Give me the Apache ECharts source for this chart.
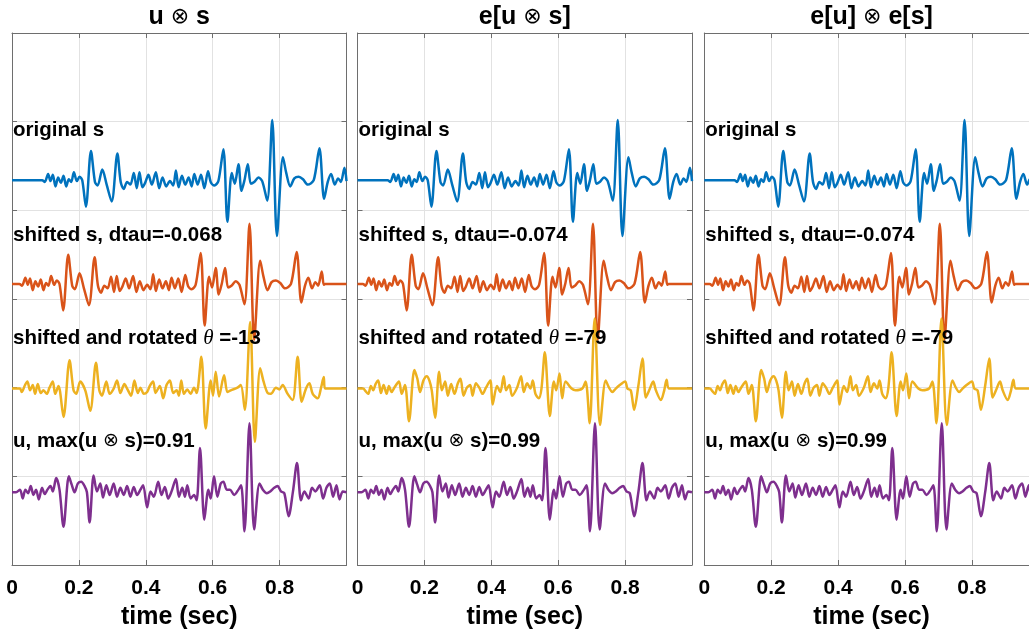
<!DOCTYPE html>
<html>
<head>
<meta charset="utf-8">
<script src="https://cdn.jsdelivr.net/npm/echarts@6/dist/echarts.min.js"></script>
<style>html,body{margin:0;padding:0;background:#fff}#chart{width:1029px;height:636px}</style>
</head>
<body>
<div id="chart"></div>
<script>
// tick labels and panel texts
var xTicks = [0, 0.2, 0.4, 0.6, 0.8];
var xTickLabels = ['0', '0.2', '0.4', '0.6', '0.8'];
var panelTitles = [['u', 's'], ['e[u', 's]'], ['e[u]', 'e[s]']];
var dtauText = ['-0.068', '-0.074', '-0.074'];
var thetaText = ['-13', '-79', '-79'];
var maxText = ['0.91', '0.99', '0.99'];

// traces, [time (sec), amplitude]
var origS = [[0,0],[0.09,0],[0.098,-0.02],[0.108,0.07],[0.115,-0.01],[0.122,0.06],[0.13,-0.07],[0.138,0.03],[0.146,-0.03],[0.154,0.05],[0.162,-0.07],[0.17,0.01],[0.177,-0.02],[0.185,0.09],[0.194,-0.01],[0.202,0.04],[0.21,0],[0.221,-0.3],[0.236,0.33],[0.248,-0.02],[0.256,-0.06],[0.27,0.12],[0.283,-0.05],[0.298,-0.24],[0.315,0.3],[0.325,-0.02],[0.334,-0.1],[0.344,-0.02],[0.354,-0.05],[0.364,0.08],[0.373,-0.09],[0.381,0.09],[0.39,-0.08],[0.398,-0.03],[0.408,0.06],[0.418,-0.05],[0.43,0.09],[0.44,-0.09],[0.45,0.03],[0.461,-0.07],[0.472,-0.01],[0.482,-0.06],[0.49,0.11],[0.498,-0.08],[0.508,0.05],[0.518,-0.05],[0.528,0.03],[0.537,-0.07],[0.545,0.07],[0.555,-0.05],[0.565,0.06],[0.575,-0.09],[0.586,0.1],[0.595,-0.03],[0.605,-0.06],[0.617,-0.01],[0.632,0.35],[0.644,-0.47],[0.657,0.08],[0.666,-0.04],[0.677,0.18],[0.686,-0.12],[0.695,0],[0.705,0.18],[0.714,-0.04],[0.724,-0.02],[0.737,0.03],[0.748,-0.01],[0.763,-0.23],[0.778,0.68],[0.792,-0.63],[0.81,0.26],[0.82,0.08],[0.832,-0.07],[0.844,0.02],[0.857,0.04],[0.87,0.01],[0.884,-0.05],[0.902,0],[0.919,0.36],[0.933,-0.21],[0.944,-0.02],[0.954,0.07],[0.965,-0.05],[0.975,0.02],[0.983,-0.02],[0.994,0.14],[1,-0.01]];

var shiftedS068 = [[0,0],[0.022,0],[0.03,-0.02],[0.04,0.07],[0.047,-0.01],[0.054,0.06],[0.062,-0.07],[0.07,0.03],[0.078,-0.03],[0.086,0.05],[0.094,-0.07],[0.102,0.01],[0.109,-0.02],[0.117,0.09],[0.126,-0.01],[0.134,0.04],[0.142,0],[0.153,-0.3],[0.168,0.33],[0.18,-0.02],[0.188,-0.06],[0.202,0.12],[0.215,-0.05],[0.23,-0.24],[0.247,0.3],[0.257,-0.02],[0.266,-0.1],[0.276,-0.02],[0.286,-0.05],[0.296,0.08],[0.305,-0.09],[0.313,0.09],[0.322,-0.08],[0.33,-0.03],[0.34,0.06],[0.35,-0.05],[0.362,0.09],[0.372,-0.09],[0.382,0.03],[0.393,-0.07],[0.404,-0.01],[0.414,-0.06],[0.422,0.11],[0.43,-0.08],[0.44,0.05],[0.45,-0.05],[0.46,0.03],[0.469,-0.07],[0.477,0.07],[0.487,-0.05],[0.497,0.06],[0.507,-0.09],[0.518,0.1],[0.527,-0.03],[0.537,-0.06],[0.549,-0.01],[0.564,0.35],[0.576,-0.47],[0.589,0.08],[0.598,-0.04],[0.609,0.18],[0.618,-0.12],[0.627,0],[0.637,0.18],[0.646,-0.04],[0.656,-0.02],[0.669,0.03],[0.68,-0.01],[0.695,-0.23],[0.71,0.68],[0.724,-0.63],[0.742,0.26],[0.752,0.08],[0.764,-0.07],[0.776,0.02],[0.789,0.04],[0.802,0.01],[0.816,-0.05],[0.834,0],[0.851,0.36],[0.865,-0.21],[0.876,-0.02],[0.886,0.07],[0.897,-0.05],[0.907,0.02],[0.915,-0.02],[0.926,0.14],[0.932,-0.01],[0.936,0],[1,0]];

var shiftedS074 = [[0,0],[0.016,0],[0.024,-0.02],[0.034,0.07],[0.041,-0.01],[0.048,0.06],[0.056,-0.07],[0.064,0.03],[0.072,-0.03],[0.08,0.05],[0.088,-0.07],[0.096,0.01],[0.103,-0.02],[0.111,0.09],[0.12,-0.01],[0.128,0.04],[0.136,0],[0.147,-0.3],[0.162,0.33],[0.174,-0.02],[0.182,-0.06],[0.196,0.12],[0.209,-0.05],[0.224,-0.24],[0.241,0.3],[0.251,-0.02],[0.26,-0.1],[0.27,-0.02],[0.28,-0.05],[0.29,0.08],[0.299,-0.09],[0.307,0.09],[0.316,-0.08],[0.324,-0.03],[0.334,0.06],[0.344,-0.05],[0.356,0.09],[0.366,-0.09],[0.376,0.03],[0.387,-0.07],[0.398,-0.01],[0.408,-0.06],[0.416,0.11],[0.424,-0.08],[0.434,0.05],[0.444,-0.05],[0.454,0.03],[0.463,-0.07],[0.471,0.07],[0.481,-0.05],[0.491,0.06],[0.501,-0.09],[0.512,0.1],[0.521,-0.03],[0.531,-0.06],[0.543,-0.01],[0.558,0.35],[0.57,-0.47],[0.583,0.08],[0.592,-0.04],[0.603,0.18],[0.612,-0.12],[0.621,0],[0.631,0.18],[0.64,-0.04],[0.65,-0.02],[0.663,0.03],[0.674,-0.01],[0.689,-0.23],[0.704,0.68],[0.718,-0.63],[0.736,0.26],[0.746,0.08],[0.758,-0.07],[0.77,0.02],[0.783,0.04],[0.796,0.01],[0.81,-0.05],[0.828,0],[0.845,0.36],[0.859,-0.21],[0.87,-0.02],[0.88,0.07],[0.891,-0.05],[0.901,0.02],[0.909,-0.02],[0.92,0.14],[0.926,-0.01],[0.93,0],[1,0]];

var rotated13 = [[0,0],[0.024,0],[0.029,-0.04],[0.039,0.04],[0.046,0.08],[0.054,-0.02],[0.062,0.04],[0.069,-0.06],[0.077,0.05],[0.086,-0.05],[0.094,-0.02],[0.104,-0.06],[0.112,0.01],[0.122,0.08],[0.129,-0.06],[0.139,0.03],[0.154,-0.32],[0.172,0.32],[0.184,-0.02],[0.192,-0.06],[0.204,0.08],[0.219,-0.02],[0.234,-0.25],[0.251,0.29],[0.261,-0.02],[0.269,-0.08],[0.282,0.08],[0.292,-0.06],[0.304,0],[0.314,0.09],[0.324,-0.05],[0.336,0.05],[0.344,0],[0.356,-0.08],[0.366,0.09],[0.376,-0.05],[0.384,0.01],[0.394,-0.06],[0.404,-0.04],[0.412,0.03],[0.422,0.08],[0.429,-0.05],[0.442,0.03],[0.452,-0.11],[0.462,0.04],[0.472,0.09],[0.482,-0.05],[0.492,-0.02],[0.499,-0.08],[0.506,0.09],[0.514,-0.06],[0.524,-0.01],[0.534,-0.06],[0.544,0.01],[0.552,-0.05],[0.566,0.36],[0.579,-0.45],[0.594,0.09],[0.601,-0.08],[0.609,0.19],[0.619,-0.09],[0.634,0.15],[0.644,-0.04],[0.654,-0.02],[0.674,0.01],[0.684,0.04],[0.696,-0.24],[0.712,0.75],[0.726,-0.6],[0.742,0.23],[0.752,0.08],[0.764,-0.05],[0.774,-0.06],[0.789,0.01],[0.799,-0.01],[0.809,0.04],[0.824,-0.06],[0.839,-0.13],[0.854,0.36],[0.866,-0.15],[0.879,0],[0.889,0.06],[0.899,-0.06],[0.914,-0.11],[0.924,0.01],[0.932,0.13],[0.936,0],[1,0]];

var rotated79 = [[0,0],[0.017,0],[0.024,-0.03],[0.032,-0.06],[0.04,0.03],[0.047,-0.02],[0.054,0.05],[0.062,0.09],[0.07,-0.05],[0.078,0.04],[0.087,-0.06],[0.094,0.03],[0.102,-0.04],[0.11,0.01],[0.124,0.08],[0.132,-0.06],[0.142,0.04],[0.154,-0.37],[0.17,0.21],[0.179,0.11],[0.187,-0.04],[0.197,0.09],[0.207,0.14],[0.215,0.09],[0.222,-0.02],[0.232,-0.33],[0.244,0.19],[0.252,-0.02],[0.262,0.08],[0.27,-0.08],[0.28,0.05],[0.29,-0.06],[0.3,0.06],[0.308,0.11],[0.317,-0.08],[0.327,0.01],[0.337,0.04],[0.344,-0.08],[0.354,0.06],[0.364,0.01],[0.374,-0.06],[0.384,0.01],[0.397,0.09],[0.404,-0.18],[0.417,0.03],[0.427,-0.04],[0.437,0.14],[0.444,-0.02],[0.454,0.04],[0.462,-0.08],[0.477,0.01],[0.489,0.14],[0.497,-0.04],[0.507,0.06],[0.517,0],[0.524,0.09],[0.532,-0.06],[0.542,-0.11],[0.55,0],[0.56,0.41],[0.575,-0.31],[0.587,0.08],[0.594,-0.02],[0.604,0.17],[0.612,-0.11],[0.622,0.08],[0.64,0],[0.652,-0.02],[0.672,0],[0.682,0.08],[0.694,-0.39],[0.709,0.79],[0.725,-0.41],[0.742,0.09],[0.752,0.01],[0.762,-0.04],[0.772,0],[0.784,0.04],[0.8,0.08],[0.807,0],[0.817,-0.02],[0.827,-0.24],[0.84,0.04],[0.852,0.34],[0.862,-0.1],[0.872,-0.02],[0.884,0.08],[0.892,-0.02],[0.907,-0.13],[0.917,-0.02],[0.924,0.1],[0.932,0],[1,0]];

var uTrace = [[0,0],[0.012,0],[0.024,0.03],[0.032,-0.07],[0.04,0.03],[0.048,-0.01],[0.056,0.07],[0.064,-0.03],[0.072,0.03],[0.08,-0.08],[0.09,0.05],[0.098,-0.02],[0.106,0.03],[0.115,0.07],[0.122,0.01],[0.132,0.16],[0.142,0.03],[0.154,-0.39],[0.17,0.18],[0.179,0.08],[0.187,0],[0.197,0.1],[0.207,0.12],[0.217,0.07],[0.224,0],[0.232,-0.34],[0.244,0.19],[0.254,0.01],[0.264,0.1],[0.272,-0.06],[0.282,0.08],[0.292,-0.03],[0.304,0.1],[0.314,-0.05],[0.324,0.05],[0.334,-0.03],[0.344,0.07],[0.354,-0.05],[0.364,0.06],[0.374,-0.03],[0.384,0.03],[0.392,0.08],[0.404,-0.17],[0.414,0.01],[0.424,-0.05],[0.437,0.12],[0.447,-0.03],[0.457,0.06],[0.467,-0.07],[0.477,0.01],[0.49,0.15],[0.499,-0.05],[0.509,0.05],[0.517,-0.05],[0.524,0.08],[0.534,-0.07],[0.544,-0.03],[0.552,-0.09],[0.562,0.5],[0.575,-0.31],[0.587,0.03],[0.594,-0.07],[0.604,0.18],[0.614,-0.05],[0.624,0.1],[0.632,0.12],[0.642,0.03],[0.652,0.03],[0.664,-0.03],[0.677,0.03],[0.685,0.08],[0.695,-0.44],[0.71,0.78],[0.724,-0.42],[0.74,0.1],[0.75,0.03],[0.762,-0.01],[0.772,0.01],[0.784,0.05],[0.794,0.07],[0.804,0.01],[0.814,-0.01],[0.827,-0.27],[0.84,0.01],[0.852,0.33],[0.864,-0.09],[0.874,0.01],[0.887,-0.07],[0.897,0.05],[0.907,0.01],[0.92,0.08],[0.93,-0.07],[0.94,0.05],[0.95,0.1],[0.96,-0.05],[0.97,0.08],[0.979,-0.08],[0.989,0.01],[1,0]];

var panelTraces = [
    [origS, shiftedS068, rotated13, uTrace],
    [origS, shiftedS074, rotated79, uTrace],
    [origS, shiftedS074, rotated79, uTrace]
];

// layout / style
var colors = ['#0072BD', '#D95319', '#EDB120', '#7E2F8E'];
var offsets = [4.34, 3.17, 1.99, 0.82];
var gridLeft = [12, 357.5, 704.3];
var gridW = 334.5, gridTop = 33, gridH = 532;
var labelY = [130.5, 235, 338, 441.5];
var FONT = '"Liberation Sans", Arial, Helvetica, sans-serif';
var AXC = '#6e6e6e';

var chart = echarts.init(document.getElementById('chart'), null, {renderer: 'canvas'});

var grids = [], xAxes = [], yAxes = [], series = [], graphics = [];

function tickFmt(v) {
    for (var k = 0; k < xTicks.length; k++) {
        if (Math.abs(xTicks[k] - v) < 1e-6) return xTickLabels[k];
    }
    return '';
}

var rich = {
    b:  {fontSize: 20.5, fontWeight: 'bold', fontFamily: FONT, fill: '#000', color: '#000'},
    t:  {fontSize: 21, fontStyle: 'italic', fontFamily: '"Liberation Serif", "DejaVu Serif", serif', fill: '#000', color: '#000'},
    o:  {fontSize: 19, fontFamily: '"DejaVu Sans", sans-serif', fill: '#000', color: '#000'},
    tb: {fontSize: 25, fontWeight: 'bold', fontFamily: FONT, fill: '#000', color: '#000'},
    to: {fontSize: 22, fontFamily: '"DejaVu Sans", sans-serif', fill: '#000', color: '#000'}
};

function textEl(x, y, text, align) {
    return {
        type: 'text', x: x, y: y, z: 100, silent: true,
        style: {
            text: text, fill: '#000', font: 'bold 20px ' + FONT,
            align: align, textAlign: align,
            verticalAlign: 'middle', textVerticalAlign: 'middle',
            rich: rich
        }
    };
}

for (var i = 0; i < 3; i++) {
    // the third panel runs past the right edge of the picture, as in the original figure
    grids.push({left: gridLeft[i], top: gridTop, width: gridW, height: gridH, show: false,
        outerBoundsMode: 'none', containLabel: false});

    xAxes.push({
        gridIndex: i, type: 'value', position: 'bottom', min: 0, max: 1, interval: 0.2,
        axisLine: {show: true, onZero: false, lineStyle: {color: AXC, width: 1}},
        axisTick: {show: true, inside: true, length: 5, lineStyle: {color: AXC}},
        axisLabel: {margin: 13, color: '#000', fontSize: 21, fontWeight: 'bold', fontFamily: FONT, formatter: tickFmt},
        splitLine: {show: true, lineStyle: {color: '#e2e2e2', width: 1}}
    });
    xAxes.push({
        gridIndex: i, type: 'value', position: 'top', min: 0, max: 1, interval: 0.2,
        axisLine: {show: true, onZero: false, lineStyle: {color: AXC, width: 1}},
        axisTick: {show: true, inside: true, length: 5, lineStyle: {color: AXC}},
        axisLabel: {show: false}, splitLine: {show: false}
    });
    yAxes.push({
        gridIndex: i, type: 'value', position: 'left', min: 0, max: 6, interval: 1,
        axisLine: {show: true, onZero: false, lineStyle: {color: AXC, width: 1}},
        axisTick: {show: true, inside: true, length: 5, lineStyle: {color: AXC}},
        axisLabel: {show: false},
        splitLine: {show: true, lineStyle: {color: '#e2e2e2', width: 1}}
    });
    yAxes.push({
        gridIndex: i, type: 'value', position: 'right', min: 0, max: 6, interval: 1,
        axisLine: {show: true, onZero: false, lineStyle: {color: AXC, width: 1}},
        axisTick: {show: true, inside: true, length: 5, lineStyle: {color: AXC}},
        axisLabel: {show: false}, splitLine: {show: false}
    });

    panelTraces[i].forEach(function (tr, j) {
        series.push({
            type: 'line', xAxisIndex: 2 * i, yAxisIndex: 2 * i,
            data: tr.map(function (p) { return [p[0], p[1] + offsets[j]]; }),
            symbol: 'none', smooth: 0.3, clip: true, silent: true,
            lineStyle: {color: colors[j], width: 2.5},
            itemStyle: {color: colors[j]}
        });
    });

    var cx = gridLeft[i] + gridW / 2;
    var tx = gridLeft[i] + 1;
    graphics.push(textEl(cx, 17.5, '{tb|' + panelTitles[i][0] + ' }{to|⊗}{tb| ' + panelTitles[i][1] + '}', 'center'));
    graphics.push(textEl(cx, 617, '{tb|time (sec)}', 'center'));
    graphics.push(textEl(tx, labelY[0], '{b|original s}', 'left'));
    graphics.push(textEl(tx, labelY[1], '{b|shifted s, dtau=' + dtauText[i] + '}', 'left'));
    graphics.push(textEl(tx, labelY[2], '{b|shifted and rotated }{t|θ}{b| =' + thetaText[i] + '}', 'left'));
    graphics.push(textEl(tx, labelY[3], '{b|u, max(u }{o|⊗}{b| s)=' + maxText[i] + '}', 'left'));
}

chart.setOption({
    animation: false,
    backgroundColor: '#fff',
    grid: grids,
    xAxis: xAxes,
    yAxis: yAxes,
    series: series,
    graphic: {elements: graphics}
});
</script>
</body>
</html>
